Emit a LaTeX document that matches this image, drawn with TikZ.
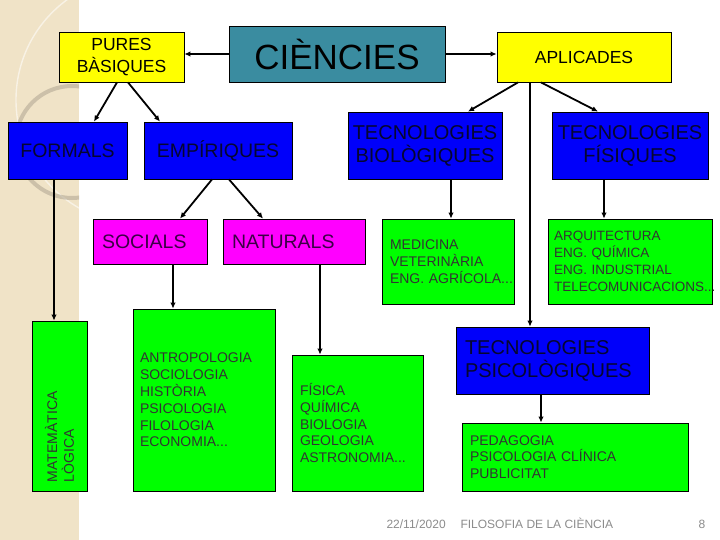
\documentclass[tikz,border=0pt]{standalone}
\usepackage{fontspec}
\setmainfont{Liberation Sans}
\usepackage{graphicx}
\usetikzlibrary{arrows.meta}
\hyphenpenalty=10000
\exhyphenpenalty=10000

\begin{document}
\begin{tikzpicture}[x=1pt,y=-1pt]

    % Colors
    \definecolor{tealbox}{RGB}{58,140,160}
    \definecolor{yellowbox}{RGB}{255,255,0}
    \definecolor{bluebox}{RGB}{0,0,250}
    \definecolor{pinkbox}{RGB}{255,0,255}
    \definecolor{greenbox}{RGB}{0,255,0}
    \definecolor{paper}{RGB}{240,227,199}
    \definecolor{navytext}{RGB}{6,6,48}
    \definecolor{plumtext}{RGB}{60,0,70}
    \definecolor{footgray}{RGB}{140,140,140}

    % Page: 720 x 540 (1 unit = 1pt, y grows downwards)
    \useasboundingbox (0,0) rectangle (720,540);
    \fill[white] (0,0) rectangle (720,540);

    % Paper strip on the left with its two faint rings
    \fill[paper] (0,0) rectangle (79,540);
    \begin{scope}
        \clip (0,0) rectangle (79,540);
        \draw[white, opacity=0.55, line width=1.4pt] (140,100) circle (124);
        \draw[black!25!paper, opacity=0.6, line width=4pt] (72,142) circle (56);
    \end{scope}

    % Box and arrow styles
    \tikzset{
        box/.style={draw=black, line width=0.8pt, inner sep=0pt},
        yellow/.style={box, fill=yellowbox, align=center,
            font=\fontsize{17.5}{21.5}\selectfont},
        blue/.style={box, fill=bluebox, text=navytext,
            font=\fontsize{20}{23}\selectfont},
        pink/.style={box, fill=pinkbox, text=plumtext, align=left,
            font=\fontsize{19.5}{23}\selectfont},
        green/.style={box, fill=greenbox, text=black!80, align=left,
            font=\fontsize{14}{16.8}\selectfont},
        link/.style={-{Latex[length=6pt,width=5.5pt]}, line width=1.8pt},
        foot/.style={text=footgray, anchor=base west,
            font=\fontsize{12}{14}\selectfont}
    }

    % --- Top row ---
    \node[yellow, minimum width=125, minimum height=50] (pures)
        at (121.5,57) {PURES\\BÀSIQUES};
    \node[box, fill=tealbox, minimum width=216, minimum height=56,
        font=\fontsize{35}{40}\selectfont] (ciencies)
        at (337,54) {CIÈNCIES};
    \node[yellow, minimum width=174, minimum height=50] (aplicades)
        at (584,57) {APLICADES};

    % --- Second row ---
    \node[blue, minimum width=119, minimum height=57,
        font=\fontsize{19.5}{23}\selectfont] (formals)
        at (67.5,150.5) {FORMALS};
    \node[blue, minimum width=148, minimum height=57,
        font=\fontsize{19.5}{23}\selectfont] (empiriques)
        at (218,150.5) {EMPÍRIQUES};
    \node[blue, align=center, minimum width=154, minimum height=67] (tecbio)
        at (425,145.5) {TECNOLOGIES\\BIOLÒGIQUES};
    \node[blue, align=center, minimum width=156, minimum height=67] (tecfis)
        at (630,145.5) {TECNOLOGIES\\FÍSIQUES};

    % --- Third row ---
    \node[pink, text width=96, inner xsep=9, minimum height=45] (socials)
        at (150,241.5) {SOCIALS};
    \node[pink, text width=124, inner xsep=9, minimum height=45] (naturals)
        at (294,241.5) {NATURALS};
    \node[green, text width=116, inner xsep=8, minimum height=85] (medicina)
        at (448,261.5) {MEDICINA\\VETERINÀRIA\\ENG.~AGRÍCOLA...};
    \node[green, text width=152, inner xsep=6, minimum height=85,
        font=\fontsize{13.5}{16.8}\selectfont] (arquitectura)
        at (630,261.5) {ARQUITECTURA\\ENG.~QUÍMICA\\ENG.~INDUSTRIAL\\TELECOMUNICACIONS...};

    % --- Bottom row ---
    \node[green, minimum width=55, minimum height=170] (matematica)
        at (59.5,406) {\rotatebox{90}{\parbox{152pt}{\raggedright
            MATEMÀTICA\\LÒGICA}}};
    \node[green, text width=128, inner xsep=7, minimum height=182] (antropologia)
        at (204,400) {ANTROPOLOGIA\\SOCIOLOGIA\\HISTÒRIA\\PSICOLOGIA\\FILOLOGIA\\ECONOMIA...};
    \node[green, text width=115, inner xsep=8, minimum height=136] (fisica)
        at (357.5,423) {FÍSICA\\QUÍMICA\\BIOLOGIA\\GEOLOGIA\\ASTRONOMIA...};
    \node[blue, align=left, text width=175, inner xsep=9, minimum height=67] (tecpsi)
        at (552.5,360.5) {TECNOLOGIES\\PSICOLÒGIQUES};
    \node[green, text width=210, inner xsep=8, minimum height=68] (pedagogia)
        at (575,457) {PEDAGOGIA\\PSICOLOGIA~CLÍNICA\\PUBLICITAT};

    % --- Connectors ---
    \draw[link] (ciencies.west) -- (ciencies.west -| pures.east);
    \draw[link] (ciencies.east) -- (ciencies.east -| aplicades.west);

    \draw[link] ([xshift=-4.5]pures.south) -- ([xshift=26.5]formals.north);
    \draw[link] ([xshift=6.5]pures.south) -- ([xshift=-58]empiriques.north);

    \draw[link] ([xshift=-13.5]formals.south)
        -- ([xshift=-13.5]formals.south |- matematica.north);

    \draw[link] ([xshift=-6]empiriques.south) -- ([xshift=30]socials.north);
    \draw[link] ([xshift=11]empiriques.south) -- ([xshift=-31]naturals.north);
    \draw[link] ([xshift=23]socials.south)
        -- ([xshift=23]socials.south |- antropologia.north);
    \draw[link] ([xshift=26]naturals.south)
        -- ([xshift=26]naturals.south |- fisica.north);

    \draw[link] ([xshift=-66]aplicades.south) -- ([xshift=43]tecbio.north);
    \draw[link] ([xshift=-43]aplicades.south) -- ([xshift=-32]tecfis.north);
    \draw[link] ([xshift=-54]aplicades.south)
        -- ([xshift=-54]aplicades.south |- tecpsi.north);

    \draw[link] ([xshift=26]tecbio.south)
        -- ([xshift=26]tecbio.south |- medicina.north);
    \draw[link] ([xshift=-26]tecfis.south)
        -- ([xshift=-26]tecfis.south |- arquitectura.north);
    \draw[link, line width=1.3pt] ([xshift=-11.5]tecpsi.south)
        -- ([xshift=-11.5]tecpsi.south |- pedagogia.north);

    % --- Footer ---
    \node[foot] (date) at (383,528) {22/11/2020};
    \node[foot] (title) at (457,528) {FILOSOFIA DE LA CIÈNCIA};
    \node[foot] (page) at (695,528) {8};

\end{tikzpicture}
\end{document}
